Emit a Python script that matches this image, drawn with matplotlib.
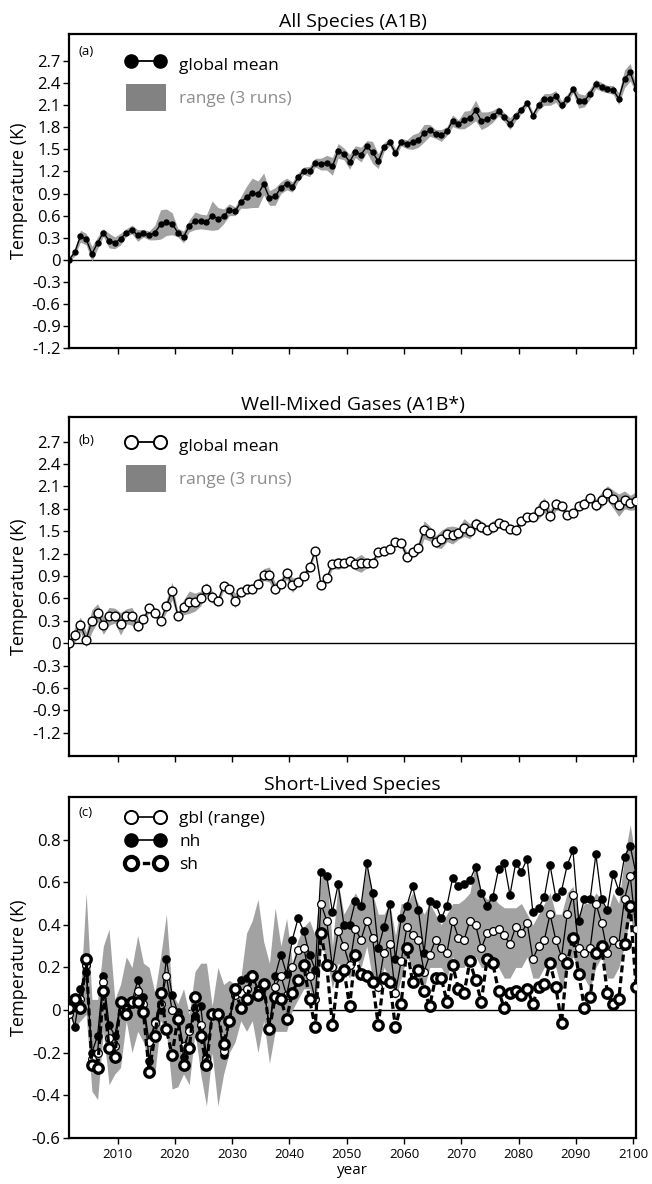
"""Three-panel temperature response: all species, well-mixed gases, short-lived species."""
import matplotlib
matplotlib.use("Agg")
import matplotlib.pyplot as plt
import numpy as np
from matplotlib.lines import Line2D
from matplotlib.patches import Patch
from matplotlib.ticker import FuncFormatter

plt.rcParams["font.family"] = ["Open Sans", "DejaVu Sans"]
plt.rcParams["axes.unicode_minus"] = False

YEARS = list(range(2001, 2101))

# (a) all species, global mean and half-width of the 3-run range
a_mean = [0.00, 0.10, 0.32, 0.28, 0.08, 0.23, 0.37, 0.26, 0.23, 0.28,
          0.37, 0.41, 0.33, 0.36, 0.33, 0.37, 0.48, 0.51, 0.49, 0.37,
          0.31, 0.46, 0.53, 0.52, 0.51, 0.60, 0.56, 0.59, 0.68, 0.66,
          0.78, 0.85, 0.91, 0.89, 1.03, 0.84, 0.86, 0.98, 1.03, 0.99,
          1.12, 1.21, 1.20, 1.32, 1.30, 1.32, 1.27, 1.48, 1.44, 1.33,
          1.47, 1.43, 1.54, 1.46, 1.34, 1.53, 1.60, 1.45, 1.60, 1.57,
          1.60, 1.63, 1.72, 1.76, 1.71, 1.69, 1.75, 1.89, 1.84, 1.90,
          1.93, 2.03, 1.89, 1.91, 1.95, 2.02, 1.94, 1.85, 1.95, 2.04,
          2.13, 1.96, 2.10, 2.18, 2.18, 2.22, 2.10, 2.19, 2.32, 2.16,
          2.16, 2.26, 2.39, 2.35, 2.32, 2.31, 2.19, 2.46, 2.55, 2.32]
a_half = [0.02, 0.05, 0.08, 0.08, 0.10, 0.08, 0.05, 0.10, 0.08, 0.08,
          0.05, 0.06, 0.08, 0.05, 0.06, 0.10, 0.20, 0.18, 0.15, 0.06,
          0.08, 0.08, 0.12, 0.10, 0.10, 0.20, 0.15, 0.10, 0.08, 0.06,
          0.08, 0.15, 0.20, 0.18, 0.15, 0.10, 0.12, 0.08, 0.08, 0.07,
          0.06, 0.05, 0.07, 0.06, 0.08, 0.10, 0.12, 0.10, 0.08, 0.10,
          0.08, 0.10, 0.08, 0.15, 0.10, 0.06, 0.05, 0.06, 0.05, 0.06,
          0.10, 0.10, 0.12, 0.08, 0.06, 0.08, 0.06, 0.08, 0.06, 0.12,
          0.10, 0.14, 0.12, 0.10, 0.08, 0.06, 0.06, 0.08, 0.06, 0.05,
          0.04, 0.05, 0.06, 0.08, 0.08, 0.08, 0.06, 0.06, 0.05, 0.10,
          0.08, 0.07, 0.06, 0.06, 0.05, 0.06, 0.08, 0.12, 0.12, 0.05]

# (b) well-mixed gases
b_mean = [0.00, 0.11, 0.25, 0.05, 0.30, 0.41, 0.24, 0.36, 0.37, 0.26,
          0.36, 0.36, 0.23, 0.32, 0.47, 0.41, 0.30, 0.50, 0.70, 0.37,
          0.48, 0.55, 0.55, 0.60, 0.73, 0.62, 0.56, 0.77, 0.72, 0.57,
          0.69, 0.73, 0.73, 0.80, 0.92, 0.92, 0.73, 0.80, 0.94, 0.78,
          0.82, 0.90, 1.02, 1.24, 0.78, 0.87, 1.06, 1.07, 1.07, 1.10,
          1.06, 1.07, 1.07, 1.08, 1.22, 1.23, 1.26, 1.35, 1.34, 1.16,
          1.22, 1.27, 1.52, 1.47, 1.36, 1.39, 1.46, 1.45, 1.47, 1.55,
          1.50, 1.60, 1.56, 1.52, 1.56, 1.61, 1.58, 1.53, 1.52, 1.64,
          1.69, 1.69, 1.77, 1.85, 1.70, 1.86, 1.84, 1.72, 1.75, 1.84,
          1.87, 1.95, 1.85, 1.92, 2.01, 1.93, 1.85, 1.92, 1.88, 1.91]
b_half = [0.02, 0.10, 0.10, 0.10, 0.15, 0.12, 0.12, 0.12, 0.10, 0.15,
          0.10, 0.12, 0.08, 0.06, 0.05, 0.06, 0.05, 0.08, 0.12, 0.05,
          0.10, 0.15, 0.12, 0.10, 0.08, 0.08, 0.06, 0.06, 0.06, 0.10,
          0.05, 0.06, 0.06, 0.06, 0.08, 0.10, 0.08, 0.06, 0.08, 0.10,
          0.05, 0.05, 0.05, 0.04, 0.05, 0.05, 0.06, 0.08, 0.06, 0.06,
          0.08, 0.12, 0.06, 0.05, 0.05, 0.05, 0.05, 0.05, 0.05, 0.06,
          0.05, 0.08, 0.12, 0.10, 0.08, 0.12, 0.10, 0.12, 0.08, 0.12,
          0.10, 0.08, 0.08, 0.06, 0.08, 0.06, 0.06, 0.05, 0.05, 0.05,
          0.06, 0.06, 0.10, 0.10, 0.08, 0.08, 0.06, 0.05, 0.05, 0.05,
          0.06, 0.06, 0.08, 0.10, 0.10, 0.12, 0.15, 0.12, 0.10, 0.12]

# (c) short-lived species: global, northern and southern hemisphere
c_gbl = [-0.02, 0.03, 0.05, 0.21, -0.23, -0.20, 0.13, -0.13, -0.17, 0.03,
         0.00, 0.04, 0.09, 0.03, -0.15, -0.06, 0.03, 0.16, 0.00, -0.03,
         -0.17, -0.10, 0.01, -0.07, -0.23, -0.02, -0.02, -0.19, -0.05, 0.07,
         0.08, 0.10, 0.16, 0.09, 0.12, -0.09, 0.11, 0.16, 0.07, 0.20,
         0.28, 0.29, 0.16, 0.05, 0.50, 0.42, 0.20, 0.37, 0.30, 0.21,
         0.38, 0.33, 0.42, 0.34, 0.11, 0.27, 0.31, 0.08, 0.23, 0.39,
         0.35, 0.33, 0.18, 0.26, 0.33, 0.29, 0.27, 0.42, 0.34, 0.33,
         0.42, 0.40, 0.29, 0.36, 0.37, 0.38, 0.35, 0.31, 0.39, 0.36,
         0.41, 0.24, 0.30, 0.33, 0.45, 0.33, 0.25, 0.45, 0.54, 0.29,
         0.27, 0.29, 0.50, 0.41, 0.27, 0.33, 0.31, 0.52, 0.63, 0.38]
c_nh = [0.02, -0.08, 0.10, 0.18, -0.20, -0.12, 0.16, -0.07, -0.12, 0.03,
        0.02, 0.04, 0.14, 0.06, -0.24, -0.05, 0.00, 0.24, 0.07, -0.01,
        -0.22, -0.08, -0.03, 0.02, -0.22, -0.02, -0.02, -0.21, -0.05, 0.10,
        0.14, 0.15, 0.17, 0.10, 0.12, -0.09, 0.16, 0.26, 0.17, 0.33,
        0.43, 0.37, 0.26, 0.19, 0.65, 0.63, 0.46, 0.59, 0.40, 0.40,
        0.51, 0.49, 0.69, 0.55, 0.29, 0.39, 0.50, 0.24, 0.43, 0.49,
        0.58, 0.47, 0.27, 0.51, 0.50, 0.43, 0.49, 0.62, 0.58, 0.59,
        0.61, 0.67, 0.55, 0.49, 0.53, 0.66, 0.69, 0.54, 0.69, 0.65,
        0.71, 0.46, 0.48, 0.53, 0.68, 0.53, 0.56, 0.68, 0.75, 0.42,
        0.52, 0.52, 0.73, 0.52, 0.47, 0.64, 0.56, 0.72, 0.77, 0.64]
c_sh = [0.01, 0.05, 0.01, 0.24, -0.26, -0.27, 0.09, -0.18, -0.22, 0.04,
        -0.02, 0.04, 0.04, -0.01, -0.29, -0.12, 0.08, -0.09, -0.21, -0.04,
        -0.26, -0.18, 0.06, -0.12, -0.26, -0.02, -0.02, -0.16, -0.05, 0.10,
        0.01, 0.05, 0.16, 0.07, 0.12, -0.09, 0.06, 0.05, -0.04, 0.08,
        0.14, 0.21, 0.05, -0.08, 0.36, 0.21, -0.07, 0.16, 0.19, 0.02,
        0.26, 0.17, 0.16, 0.13, -0.07, 0.15, 0.13, -0.08, 0.03, 0.29,
        0.13, 0.19, 0.09, 0.02, 0.15, 0.15, 0.04, 0.21, 0.10, 0.08,
        0.23, 0.14, 0.04, 0.24, 0.22, 0.09, 0.01, 0.08, 0.09, 0.07,
        0.10, 0.03, 0.11, 0.12, 0.22, 0.11, -0.06, 0.22, 0.34, 0.17,
        0.01, 0.06, 0.27, 0.30, 0.08, 0.03, 0.05, 0.31, 0.49, 0.11]
c_hi = [0.02, 0.06, 0.08, 0.55, 0.05, 0.05, 0.30, 0.38, 0.05, 0.12,
        0.25, 0.20, 0.35, 0.22, 0.20, 0.08, 0.25, 0.45, 0.08, 0.03,
        0.10, -0.02, 0.18, 0.22, 0.22, 0.02, 0.20, 0.12, 0.14, 0.12,
        0.15, 0.36, 0.42, 0.52, 0.32, 0.22, 0.48, 0.30, 0.43, 0.22,
        0.33, 0.39, 0.42, 0.35, 0.62, 0.65, 0.30, 0.60, 0.45, 0.50,
        0.55, 0.50, 0.68, 0.55, 0.45, 0.45, 0.50, 0.35, 0.50, 0.50,
        0.55, 0.50, 0.45, 0.50, 0.45, 0.40, 0.45, 0.50, 0.50, 0.52,
        0.55, 0.70, 0.55, 0.52, 0.53, 0.50, 0.48, 0.48, 0.48, 0.50,
        0.45, 0.40, 0.45, 0.50, 0.55, 0.45, 0.45, 0.55, 0.58, 0.45,
        0.50, 0.50, 0.55, 0.52, 0.45, 0.55, 0.50, 0.72, 0.87, 0.70]
c_lo = [-0.02, -0.08, -0.05, -0.02, -0.38, -0.42, -0.10, -0.35, -0.30, -0.27,
        -0.05, -0.20, -0.10, -0.15, -0.25, -0.30, -0.05, -0.10, -0.37, -0.36,
        -0.30, -0.35, -0.10, -0.30, -0.45, -0.20, -0.45, -0.30, -0.20, -0.15,
        -0.05, -0.10, -0.05, -0.20, -0.05, -0.25, -0.10, -0.10, -0.10, 0.00,
        0.05, 0.10, 0.10, 0.00, 0.30, 0.25, 0.10, 0.22, 0.20, 0.15,
        0.25, 0.20, 0.30, 0.15, 0.08, 0.20, 0.15, 0.05, 0.15, 0.25,
        0.20, 0.15, 0.10, 0.20, 0.20, 0.20, 0.15, 0.25, 0.20, 0.20,
        0.25, 0.25, 0.20, 0.20, 0.25, 0.20, 0.15, 0.15, 0.20, 0.20,
        0.25, 0.15, 0.15, 0.20, 0.22, 0.20, 0.10, 0.20, 0.25, 0.20,
        0.15, 0.10, 0.20, 0.25, 0.15, 0.15, 0.20, 0.30, 0.45, 0.30]

AB_TICKS = [-1.2, -0.9, -0.6, -0.3, 0, 0.3, 0.6, 0.9, 1.2, 1.5, 1.8, 2.1, 2.4, 2.7]
C_TICKS = [-0.6, -0.4, -0.2, 0, 0.2, 0.4, 0.6, 0.8]
X_TICKS = list(range(2010, 2101, 10))

BAND = "#a2a2a2"
LEG_BAND = "#828282"


def fmt(v, _):
    return "0" if abs(v) < 1e-9 else f"{v:.1f}"


def style(ax, title, tag, ylim, yticks, tag_y):
    for s in ax.spines.values():
        s.set_linewidth(1.6)
    ax.axhline(0, color="black", lw=1.0, zorder=1)
    ax.set_xlim(2001.5, 2100.5)
    ax.set_ylim(*ylim)
    ax.set_yticks(yticks)
    ax.yaxis.set_major_formatter(FuncFormatter(fmt))
    ax.set_xticks(X_TICKS)
    ax.tick_params(axis="y", direction="out", length=4, width=1, labelsize=12, pad=2)
    ax.tick_params(axis="x", direction="out", length=4, width=1, labelsize=9.5, pad=3)
    ax.set_ylabel("Temperature (K)", fontsize=13, labelpad=3)
    ax.set_title(title, fontsize=14, pad=5)
    ax.text(0.016, tag_y, tag, transform=ax.transAxes, fontsize=9.5, va="center")


def band_legend(ax, handles, y):
    ax.legend(handles, ["global mean", "range (3 runs)"], loc="upper left",
              bbox_to_anchor=(0.1, y), frameon=False, numpoints=2,
              handlelength=2.3, handleheight=2.0, handletextpad=0.8,
              labelspacing=0.35, borderpad=0, borderaxespad=0, fontsize=12.5,
              labelcolor=["black", "#8c8c8c"])


fig = plt.figure(figsize=(6.52, 11.84), dpi=100)
ax_a = fig.add_axes([0.1058, 0.7061, 0.8696, 0.2652])
ax_b = fig.add_axes([0.1058, 0.3615, 0.8696, 0.2863])
ax_c = fig.add_axes([0.1058, 0.0389, 0.8696, 0.2880])

x = np.array(YEARS) + 0.5  # annual means at mid-year

# (a)
mean, half = np.array(a_mean), np.array(a_half)
ax_a.fill_between(x, mean - half, mean + half, color=BAND, lw=0, zorder=2)
ax_a.plot(x, mean, color="black", lw=1.0, marker="o", ms=3.6, zorder=3)
style(ax_a, "All Species (A1B)", "(a)", (-1.2, 3.07), AB_TICKS, 0.943)
ax_a.set_xticklabels([])
band_legend(ax_a, [Line2D([], [], color="black", lw=1.3, marker="o", ms=9.5),
                   Patch(facecolor=LEG_BAND, edgecolor="none")], 0.945)

# (b)
mean, half = np.array(b_mean), np.array(b_half)
ax_b.fill_between(x, mean - half, mean + half, color=BAND, lw=0, zorder=2)
ax_b.plot(x, mean, color="black", lw=0.9, marker="o", ms=6.3,
          mfc="white", mec="black", mew=1.0, zorder=3)
style(ax_b, "Well-Mixed Gases (A1B*)", "(b)", (-1.51, 3.03), AB_TICKS, 0.932)
ax_b.set_xticklabels([])
band_legend(ax_b, [Line2D([], [], color="black", lw=1.3, marker="o", ms=9.5,
                          mfc="white", mew=1.4),
                   Patch(facecolor=LEG_BAND, edgecolor="none")], 0.955)

# (c)
ax_c.fill_between(x, c_lo, c_hi, color=BAND, lw=0, zorder=2)
ax_c.plot(x, c_nh, color="black", lw=0.9, marker="o", ms=5.2,
          mfc="black", mec="black", zorder=3)
ax_c.plot(x, c_gbl, color="black", lw=0.9, marker="o", ms=5.6,
          mfc="white", mec="black", mew=0.9, zorder=4)
ax_c.plot(x, c_sh, color="black", lw=2.3, ls=(0, (2.2, 1.2)), marker="o", ms=6.8,
          mfc="white", mec="black", mew=2.4, zorder=5)
style(ax_c, "Short-Lived Species", "(c)", (-0.6, 1.0), C_TICKS, 0.953)
ax_c.set_xlabel("year", fontsize=11, labelpad=2)
h = [Line2D([], [], color="black", lw=1.2, marker="o", ms=9.5, mfc="white", mew=1.4),
     Line2D([], [], color="black", lw=1.2, marker="o", ms=9.5, mfc="black"),
     Line2D([], [], color="black", lw=2.4, ls=(0, (2.2, 1.2)), marker="o", ms=9.5,
            mfc="white", mew=3)]
ax_c.legend(h, ["gbl (range)", "nh", "sh"], loc="upper left",
            bbox_to_anchor=(0.1, 0.96), frameon=False, numpoints=2,
            handlelength=2.3, handletextpad=0.8, labelspacing=0.4,
            borderpad=0, borderaxespad=0, fontsize=12.5)

fig.savefig("out.png", dpi=100)
